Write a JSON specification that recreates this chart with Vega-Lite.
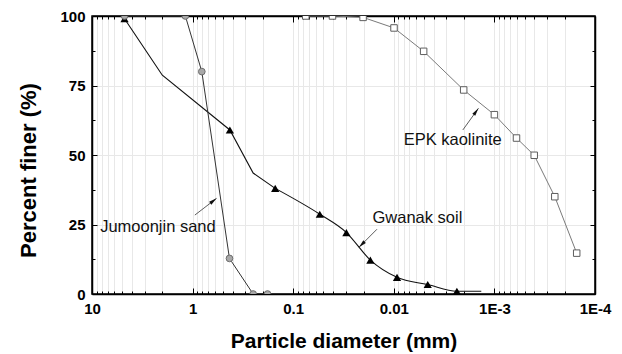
{
  "$schema": "https://vega.github.io/schema/vega-lite/v6.json",
  "width": 503,
  "height": 278,
  "autosize": "none",
  "padding": {"left": 92, "top": 16, "right": 27, "bottom": 60},
  "background": "white",
  "config": {
    "font": "Liberation Sans",
    "view": {"stroke": "black", "strokeWidth": 1.5}
  },
  "datasets": {
    "curves": [
      {"soil": "Gwanak soil", "d": 4.75, "pf": 99, "marked": true},
      {"soil": "Gwanak soil", "d": 2.0, "pf": 78.7, "marked": false},
      {"soil": "Gwanak soil", "d": 0.426, "pf": 59, "marked": true},
      {"soil": "Gwanak soil", "d": 0.25, "pf": 43.5, "marked": false},
      {"soil": "Gwanak soil", "d": 0.151, "pf": 38, "marked": true},
      {"soil": "Gwanak soil", "d": 0.0544, "pf": 28.7, "marked": true},
      {"soil": "Gwanak soil", "d": 0.0296, "pf": 22.1, "marked": true},
      {"soil": "Gwanak soil", "d": 0.0171, "pf": 12.2, "marked": true},
      {"soil": "Gwanak soil", "d": 0.00929, "pf": 6.0, "marked": true},
      {"soil": "Gwanak soil", "d": 0.0046, "pf": 3.4, "marked": true},
      {"soil": "Gwanak soil", "d": 0.00236, "pf": 1.0, "marked": true},
      {"soil": "Gwanak soil", "d": 0.00135, "pf": 1.0, "marked": false},
      {"soil": "Jumoonjin sand", "d": 4.75, "pf": 100, "marked": true},
      {"soil": "Jumoonjin sand", "d": 1.18, "pf": 100, "marked": true},
      {"soil": "Jumoonjin sand", "d": 0.81, "pf": 80, "marked": true},
      {"soil": "Jumoonjin sand", "d": 0.43, "pf": 12.8, "marked": true},
      {"soil": "Jumoonjin sand", "d": 0.25, "pf": 0, "marked": true},
      {"soil": "Jumoonjin sand", "d": 0.18, "pf": 0, "marked": true},
      {"soil": "EPK kaolinite", "d": 0.075, "pf": 100, "marked": true},
      {"soil": "EPK kaolinite", "d": 0.0407, "pf": 100, "marked": true},
      {"soil": "EPK kaolinite", "d": 0.0202, "pf": 99.5, "marked": true},
      {"soil": "EPK kaolinite", "d": 0.00995, "pf": 95.7, "marked": true},
      {"soil": "EPK kaolinite", "d": 0.00505, "pf": 87.3, "marked": true},
      {"soil": "EPK kaolinite", "d": 0.00202, "pf": 73.4, "marked": true},
      {"soil": "EPK kaolinite", "d": 0.001, "pf": 64.5, "marked": true},
      {"soil": "EPK kaolinite", "d": 0.000603, "pf": 56.1, "marked": true},
      {"soil": "EPK kaolinite", "d": 0.000402, "pf": 49.9, "marked": true},
      {"soil": "EPK kaolinite", "d": 0.000251, "pf": 35.0, "marked": true},
      {"soil": "EPK kaolinite", "d": 0.000152, "pf": 14.7, "marked": true}
    ],
    "notes": [
      {"label": "Jumoonjin sand", "d": 8.3, "pf": 24, "tailD": 0.949, "tailPf": 28.4, "headD": 0.578, "headPf": 34.4},
      {"label": "Gwanak soil", "d": 0.0163, "pf": 27.5, "tailD": 0.0147, "tailPf": 23.3, "headD": 0.0222, "headPf": 16.8},
      {"label": "EPK kaolinite", "d": 0.00798, "pf": 55.4, "tailD": 0.00206, "tailPf": 59.0, "headD": 0.00144, "headPf": 66.8}
    ]
  },
  "layer": [
    {
      "data": {"name": "curves"},
      "transform": [{"filter": "datum.soil == 'Gwanak soil' && datum.d >= 0.15"}],
      "mark": {"type": "line", "color": "#111111", "strokeWidth": 1.1, "clip": true},
      "encoding": {
        "x": {
          "field": "d", "type": "quantitative",
          "scale": {"type": "log", "domain": [0.0001, 10], "reverse": true, "nice": false},
          "axis": {
            "orient": "bottom",
            "values": [10, 9, 8, 7, 6, 5, 4, 3, 2, 1, 0.9, 0.8, 0.7, 0.6, 0.5, 0.4, 0.3, 0.2, 0.1, 0.09, 0.08, 0.07, 0.06, 0.05, 0.04, 0.03, 0.02, 0.01, 0.009, 0.008, 0.007, 0.006, 0.005, 0.004, 0.003, 0.002, 0.001, 0.0009, 0.0008, 0.0007, 0.0006, 0.0005, 0.0004, 0.0003, 0.0002, 0.0001],
            "labelExpr": "abs(log(datum.value)/LN10 - round(log(datum.value)/LN10)) < 0.000001 ? (datum.value >= 0.01 ? format(datum.value, '') : '1E' + round(log(datum.value)/LN10)) : ''",
            "labelFontSize": 15, "labelFontWeight": "bold", "labelColor": "black",
            "labelFlush": false, "labelOverlap": false, "labelBaseline": "top", "labelPadding": 13,
            "tickSize": {"condition": {"test": "abs(log(datum.value)/LN10 - round(log(datum.value)/LN10)) < 0.000001", "value": -6}, "value": -3},
            "tickColor": "black", "tickWidth": 1,
            "grid": true, "gridColor": "#e8e8e8", "gridWidth": 1,
            "domainColor": "black", "domainWidth": 1.5,
            "title": "Particle diameter (mm)",
            "titleFontSize": 21, "titleFontWeight": "bold", "titleColor": "black",
            "titleBaseline": "alphabetic", "titleY": 53
          }
        },
        "y": {
          "field": "pf", "type": "quantitative",
          "scale": {"domain": [0, 100], "nice": false},
          "axis": {
            "orient": "left",
            "values": [0, 12.5, 25, 37.5, 50, 62.5, 75, 87.5, 100],
            "labelExpr": "datum.value % 25 == 0 ? datum.label : ''",
            "labelFontSize": 15, "labelFontWeight": "bold", "labelColor": "black",
            "labelPadding": 12, "labelOverlap": false, "labelFlush": false,
            "tickSize": {"condition": {"test": "datum.value % 25 == 0", "value": -5}, "value": -3},
            "tickColor": "black", "tickWidth": 1,
            "grid": true, "gridColor": "#e8e8e8", "gridWidth": 1,
            "gridOpacity": {"condition": {"test": "datum.value % 25 == 0", "value": 1}, "value": 0},
            "domainColor": "black", "domainWidth": 1.5,
            "title": "Percent finer (%)",
            "titleFontSize": 22, "titleFontWeight": "bold", "titleColor": "black",
            "titleAngle": -90, "titleAlign": "center", "titleBaseline": "alphabetic",
            "titleX": -57, "titleY": 154
          }
        },
        "order": {"field": "d", "sort": "descending"}
      }
    },
    {
      "data": {"name": "curves"},
      "transform": [{"filter": "datum.soil == 'Gwanak soil' && datum.d <= 0.152"}],
      "mark": {"type": "line", "color": "#111111", "strokeWidth": 1.1, "interpolate": "monotone", "clip": true},
      "encoding": {
        "x": {
          "field": "d", "type": "quantitative",
          "axis": {
            "orient": "top",
            "values": [10, 9, 8, 7, 6, 5, 4, 3, 2, 1, 0.9, 0.8, 0.7, 0.6, 0.5, 0.4, 0.3, 0.2, 0.1, 0.09, 0.08, 0.07, 0.06, 0.05, 0.04, 0.03, 0.02, 0.01, 0.009, 0.008, 0.007, 0.006, 0.005, 0.004, 0.003, 0.002, 0.001, 0.0009, 0.0008, 0.0007, 0.0006, 0.0005, 0.0004, 0.0003, 0.0002, 0.0001],
            "labels": false, "title": null, "grid": false,
            "tickSize": {"condition": {"test": "abs(log(datum.value)/LN10 - round(log(datum.value)/LN10)) < 0.000001", "value": -6}, "value": -3},
            "tickColor": "black", "tickWidth": 1,
            "domainColor": "black", "domainWidth": 1.5
          }
        },
        "y": {
          "field": "pf", "type": "quantitative",
          "axis": {
            "orient": "right",
            "values": [0, 12.5, 25, 37.5, 50, 62.5, 75, 87.5, 100],
            "labels": false, "title": null, "grid": false,
            "tickSize": {"condition": {"test": "datum.value % 25 == 0", "value": -5}, "value": -3},
            "tickColor": "black", "tickWidth": 1,
            "domainColor": "black", "domainWidth": 1.5
          }
        },
        "order": {"field": "d", "sort": "descending"}
      }
    },
    {
      "data": {"name": "curves"},
      "transform": [{"filter": "datum.soil == 'Gwanak soil' && datum.marked"}],
      "mark": {"type": "point", "shape": "triangle-up", "filled": true, "color": "black", "size": 68, "opacity": 1, "clip": true},
      "encoding": {
        "x": {"field": "d", "type": "quantitative", "axis": null},
        "y": {"field": "pf", "type": "quantitative", "axis": null}
      }
    },
    {
      "data": {"name": "curves"},
      "transform": [{"filter": "datum.soil == 'Jumoonjin sand'"}],
      "mark": {"type": "line", "color": "#333333", "strokeWidth": 1, "clip": true},
      "encoding": {
        "x": {"field": "d", "type": "quantitative", "axis": null},
        "y": {"field": "pf", "type": "quantitative", "axis": null},
        "order": {"field": "d", "sort": "descending"}
      }
    },
    {
      "data": {"name": "curves"},
      "transform": [{"filter": "datum.soil == 'Jumoonjin sand'"}],
      "mark": {"type": "point", "shape": "circle", "filled": true, "fill": "#a8a8a8", "stroke": "#6e6e6e", "strokeWidth": 1, "size": 45, "opacity": 1, "clip": true},
      "encoding": {
        "x": {"field": "d", "type": "quantitative", "axis": null},
        "y": {"field": "pf", "type": "quantitative", "axis": null}
      }
    },
    {
      "data": {"name": "curves"},
      "transform": [{"filter": "datum.soil == 'EPK kaolinite'"}],
      "mark": {"type": "line", "color": "#7a7a7a", "strokeWidth": 1, "clip": true},
      "encoding": {
        "x": {"field": "d", "type": "quantitative", "axis": null},
        "y": {"field": "pf", "type": "quantitative", "axis": null},
        "order": {"field": "d", "sort": "descending"}
      }
    },
    {
      "data": {"name": "curves"},
      "transform": [{"filter": "datum.soil == 'EPK kaolinite'"}],
      "mark": {"type": "point", "shape": "square", "filled": true, "fill": "white", "stroke": "#5e5e5e", "strokeWidth": 1, "size": 42, "opacity": 1, "clip": true},
      "encoding": {
        "x": {"field": "d", "type": "quantitative", "axis": null},
        "y": {"field": "pf", "type": "quantitative", "axis": null}
      }
    },
    {
      "data": {"name": "notes"},
      "mark": {"type": "rule", "color": "#333333", "strokeWidth": 0.8},
      "encoding": {
        "x": {"field": "tailD", "type": "quantitative", "axis": null},
        "y": {"field": "tailPf", "type": "quantitative", "axis": null},
        "x2": {"field": "headD"},
        "y2": {"field": "headPf"}
      }
    },
    {
      "data": {"name": "notes"},
      "mark": {"type": "point", "shape": "M0,0L0.45,2L-0.45,2Z", "filled": true, "color": "#111111", "size": 64, "opacity": 1},
      "encoding": {
        "x": {"field": "headD", "type": "quantitative", "axis": null},
        "y": {"field": "headPf", "type": "quantitative", "axis": null},
        "angle": {"field": "label", "type": "nominal", "scale": {"type": "ordinal", "domain": ["Jumoonjin sand", "Gwanak soil", "EPK kaolinite"], "range": [52, 225, 36]}, "legend": null}
      }
    },
    {
      "data": {"name": "notes"},
      "mark": {"type": "text", "align": "left", "baseline": "middle", "fontSize": 16.5, "color": "#111111"},
      "encoding": {
        "x": {"field": "d", "type": "quantitative", "axis": null},
        "y": {"field": "pf", "type": "quantitative", "axis": null},
        "text": {"field": "label"}
      }
    }
  ],
  "resolve": {"axis": {"x": "independent", "y": "independent"}}
}
